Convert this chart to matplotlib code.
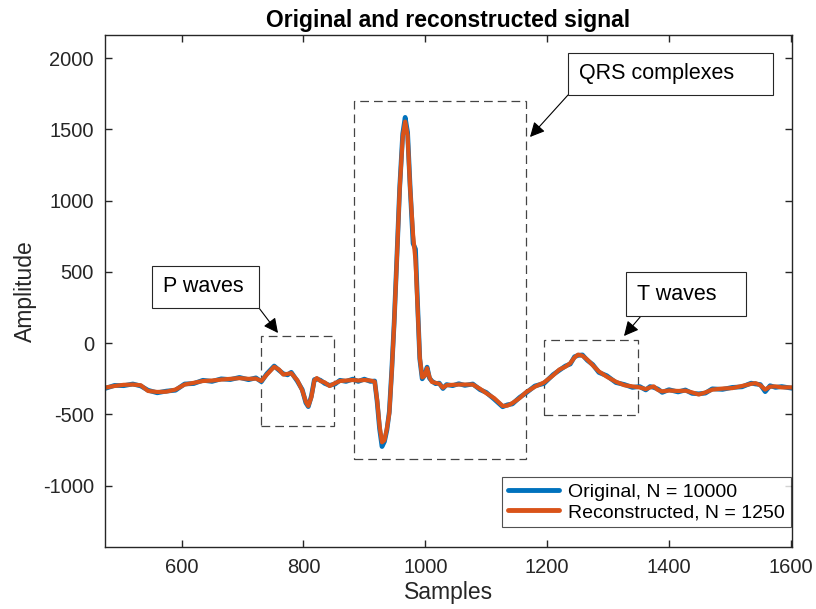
import matplotlib
matplotlib.use("Agg")
import matplotlib.pyplot as plt
from matplotlib.patches import Rectangle

plt.rcParams['font.family'] = ['Liberation Sans', 'DejaVu Sans']
plt.rcParams['axes.unicode_minus'] = False

# ECG beat (samples, amplitude)
samples = [474, 490, 505, 520, 533, 545, 560, 575, 590, 605, 620, 635, 650, 665, 680, 695,
           710, 722, 731, 740, 752, 760, 767, 774, 780, 790, 798, 804, 808, 813, 818, 822,
           828, 835, 843, 852, 860, 870, 881, 890, 900, 910, 917, 921, 925, 929, 933, 937,
           941, 945, 949, 953, 958, 963, 967, 971, 975, 980, 984, 988, 991, 995, 999, 1003,
           1007, 1011, 1017, 1023, 1029, 1035, 1045, 1055, 1065, 1078, 1090, 1100, 1113, 1127,
           1135, 1143, 1155, 1165, 1180, 1195, 1210, 1220, 1230, 1238, 1245, 1251, 1258, 1266,
           1275, 1285, 1298, 1313, 1327, 1340, 1352, 1362, 1369, 1375, 1382, 1389, 1400, 1415,
           1427, 1438, 1449, 1460, 1471, 1488, 1504, 1520, 1535, 1542, 1550, 1558, 1566, 1575,
           1585, 1602]

reconstructed = [-312, -300, -292, -290, -295, -335, -342, -340, -325, -290, -278, -265, -262, -255, -250, -245,
                 -250, -248, -265, -220, -165, -185, -220, -215, -210, -260, -330, -410, -440, -380, -260, -245,
                 -265, -275, -300, -280, -265, -262, -258, -262, -258, -262, -270, -400, -580, -695, -680, -600,
                 -490, -200, 140, 550, 1080, 1450, 1555, 1460, 1100, 760, 580, 200, -100, -240, -230, -175,
                 -240, -272, -278, -285, -312, -295, -292, -290, -290, -290, -320, -350, -385, -440,
                 -438, -420, -385, -345, -305, -275, -225, -185, -165, -140, -100, -80, -88, -115,
                 -155, -198, -235, -270, -295, -303, -310, -322, -310, -303, -328, -338, -332, -335,
                 -333, -345, -360, -345, -326, -318, -315, -300, -285, -280, -295, -325, -305, -303,
                 -310, -310]

original = [-318, -296, -298, -286, -300, -330, -348, -336, -330, -286, -283, -260, -268, -250, -255, -240,
            -256, -243, -270, -214, -160, -190, -214, -222, -204, -266, -325, -418, -445, -372, -255, -250,
            -260, -282, -296, -286, -260, -268, -252, -268, -252, -268, -265, -410, -600, -725, -690, -610,
            -480, -190, 150, 560, 1090, 1470, 1585, 1480, 1110, 700, 660, 210, -110, -250, -225, -168,
            -246, -266, -284, -280, -318, -290, -298, -284, -296, -286, -326, -345, -392, -446,
            -432, -426, -380, -350, -300, -282, -220, -190, -160, -146, -95, -85, -82, -120,
            -150, -205, -228, -276, -290, -310, -304, -328, -304, -310, -322, -345, -326, -342,
            -328, -352, -355, -350, -320, -324, -310, -306, -280, -286, -290, -340, -298, -310,
            -304, -316]

legend_labels = ['Original, N = 10000', 'Reconstructed, N = 1250']

# dashed regions: (x0, y0, x1, y1) in data units
p_box = (731, -584, 851, 54)
qrs_box = (883, -813, 1165, 1703)
t_box = (1195, -507, 1350, 24)

fig = plt.figure(figsize=(8.16, 6.09), dpi=100)
ax = fig.add_axes([105 / 816, 1 - 547 / 609, (792 - 105) / 816, (547 - 35) / 609])

ax.plot(samples, original, color='#0072BD', lw=3.4, label=legend_labels[0], solid_capstyle='round')
ax.plot(samples, reconstructed, color='#D95319', lw=3.0, label=legend_labels[1], solid_capstyle='round')

for x0, y0, x1, y1 in (p_box, qrs_box, t_box):
    ax.add_patch(Rectangle((x0, y0), x1 - x0, y1 - y0, fill=False, edgecolor='#444444',
                           lw=0.9, linestyle=(0, (7, 4))))

ax.set_xlim(474.3, 1602)
ax.set_ylim(-1430, 2163)
ax.set_xticks([600, 800, 1000, 1200, 1400, 1600])
ax.set_yticks([-1000, -500, 0, 500, 1000, 1500, 2000])

ax.tick_params(direction='in', top=True, right=True, length=5, width=1,
               color='#262626', labelcolor='#262626', labelsize=14.5, pad=8)
for s in ax.spines.values():
    s.set_color('#262626')
    s.set_linewidth(1.0)

ax.set_title('Original and reconstructed signal', fontsize=16.5, fontweight='bold', pad=6)
ax.set_xlabel('Samples', fontsize=16.5, color='#262626', labelpad=3)
ax.set_ylabel('Amplitude', fontsize=16.5, color='#262626', labelpad=4)

leg = ax.legend(loc='lower right', bbox_to_anchor=(0.9985, 0.039), borderaxespad=0,
                fontsize=14, frameon=True, fancybox=False, edgecolor='#262626',
                handlelength=2.6, labelspacing=0.15, borderpad=0.3, handletextpad=0.5)
leg.get_frame().set_linewidth(0.8)
for line in leg.get_lines():
    line.set_linewidth(3.5)


def fx(px):
    return px / 816


def fy(py):
    return 1 - py / 609


def callout(text, left, top, right, bottom, corner, tip):
    fig.patches.append(Rectangle((fx(left), fy(bottom)), fx(right) - fx(left), fy(top) - fy(bottom),
                                 transform=fig.transFigure, fill=True, facecolor='white',
                                 edgecolor='#262626', lw=0.8, zorder=5))
    fig.text(fx(left + 11), fy((top + bottom) / 2), text, fontsize=15.5, va='center', ha='left', zorder=6)
    ax.annotate('', xy=(fx(tip[0]), fy(tip[1])), xycoords='figure fraction',
                xytext=(fx(corner[0]), fy(corner[1])), textcoords='figure fraction',
                arrowprops=dict(arrowstyle='-|>', color='black', lw=0.8, mutation_scale=22,
                                shrinkA=0, shrinkB=0))


callout('P waves', 152, 266, 259, 308, (259, 308), (278, 333))
callout('QRS complexes', 568, 53, 773, 95, (568, 95), (530, 137))
callout('T waves', 626, 272, 746, 316, (641, 316), (624, 336))

fig.savefig('out.png', dpi=100)
